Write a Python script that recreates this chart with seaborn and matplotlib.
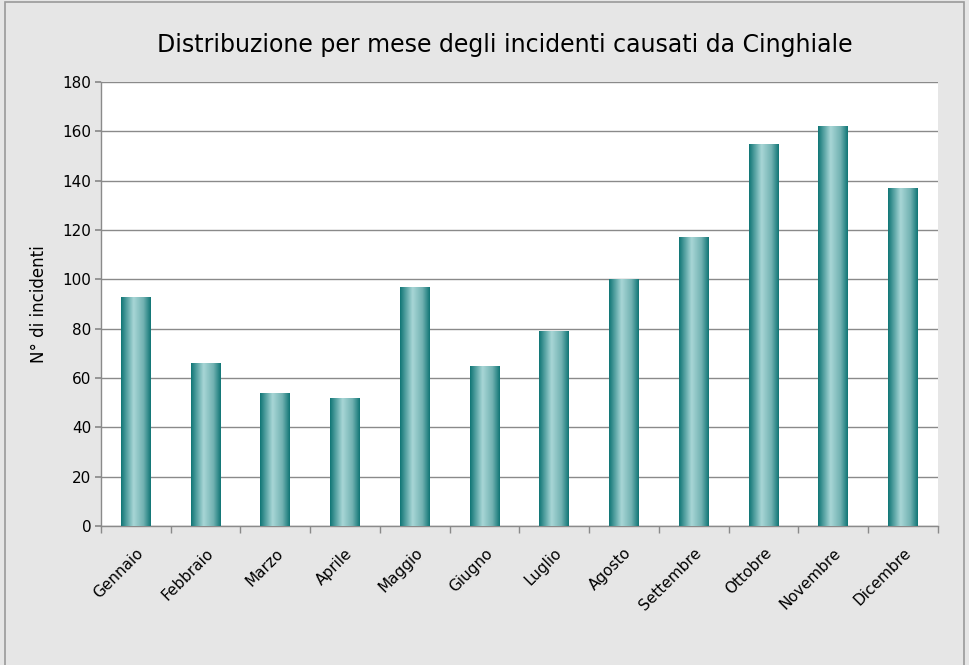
import numpy as np
import pandas as pd
import matplotlib
matplotlib.use("Agg")
import matplotlib.pyplot as plt
import seaborn as sns
from matplotlib.colors import LinearSegmentedColormap
from matplotlib.patches import Rectangle

months = ["Gennaio", "Febbraio", "Marzo", "Aprile", "Maggio", "Giugno",
          "Luglio", "Agosto", "Settembre", "Ottobre", "Novembre", "Dicembre"]
incidents = [93, 66, 54, 52, 97, 65, 79, 100, 117, 155, 162, 137]
yticks = [0, 20, 40, 60, 80, 100, 120, 140, 160, 180]

title = "Distribuzione per mese degli incidenti causati da Cinghiale"
ylabel = "N° di incidenti"

sns.set_theme(style="white")
plt.rcParams['font.family'] = ['DejaVu Sans']

df = pd.DataFrame({"mese": months, "n": incidents})

fig = plt.figure(figsize=(9.69, 6.65), dpi=100)
fig.patch.set_facecolor("#e6e6e6")
fig.patches.append(Rectangle((0.005, -0.05), 0.99, 1.047, transform=fig.transFigure,
                             fill=False, edgecolor="#9a9a9a", linewidth=1.2))

ax = fig.add_axes([0.1042, 0.209, 0.8638, 0.6677])
ax.set_facecolor("white")

sns.barplot(data=df, x="mese", y="n", ax=ax, color="#1f8080", width=0.43,
            saturation=1, zorder=3)

cmap = LinearSegmentedColormap.from_list(
    "teal", [(0.0, "#0f7575"), (0.42, "#a8d6d6"), (0.75, "#72b2b2"), (1.0, "#0f7575")])
grad = np.linspace(0, 1, 256).reshape(1, -1)
for p in ax.patches:
    x0, y0 = p.get_x(), p.get_y()
    w, h = p.get_width(), p.get_height()
    p.set_facecolor("none")
    p.set_edgecolor("none")
    im = ax.imshow(grad, cmap=cmap, aspect="auto", extent=[x0, x0 + w, y0, y0 + h],
                   zorder=3, interpolation="bilinear")
    im.set_clip_path(p)

ax.set_xlim(-0.5, len(months) - 0.5)
ax.set_ylim(0, 180)
ax.set_yticks(yticks)
ax.yaxis.grid(True, color="#8a8a8a", linewidth=1.0, zorder=0)
ax.set_axisbelow(True)

for s in ["top", "right"]:
    ax.spines[s].set_visible(False)
for s in ["left", "bottom"]:
    ax.spines[s].set_color("#8a8a8a")
    ax.spines[s].set_linewidth(1.0)

ax.tick_params(axis="y", left=True, length=4, color="#8a8a8a", labelsize=11,
               labelcolor="black", pad=3)
ax.set_xticks(np.arange(len(months)))
ax.set_xticklabels(months, rotation=45, ha="right", rotation_mode="anchor",
                   fontsize=11, color="black")
ax.tick_params(axis="x", bottom=False, pad=8)
ax.set_xticks(np.arange(len(months) + 1) - 0.5, minor=True)
ax.tick_params(axis="x", which="minor", bottom=True, length=5, color="#8a8a8a")

ax.set_xlabel("")
ax.set_ylabel(ylabel, fontsize=12, color="black", labelpad=10)
fig.text(0.521, 0.932, title, ha="center", va="center", fontsize=17, color="black")

fig.savefig("out.png", dpi=100, facecolor=fig.get_facecolor())
